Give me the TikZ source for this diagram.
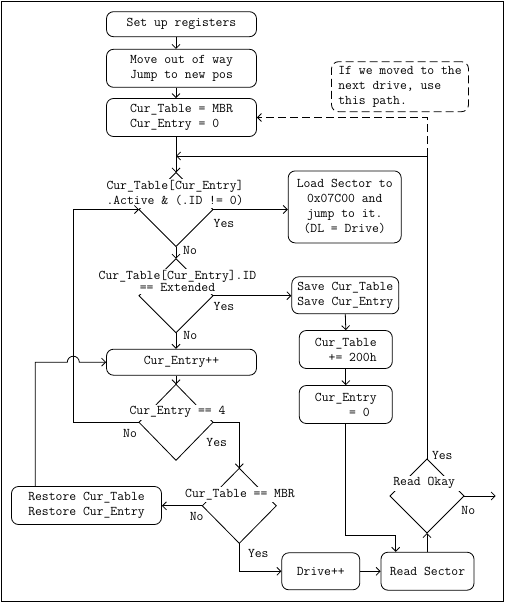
\documentclass[tikz,border=0pt]{standalone}
\usepackage{tikz}
\usetikzlibrary{calc}
\usetikzlibrary{shapes.geometric}
\usetikzlibrary{arrows.meta}

\begin{document}
\begin{tikzpicture}[x=1pt,y=-1pt,line width=0.8pt,
		>={Straight Barb[length=4pt,width=8pt]},
		txt/.style={font=\ttfamily\fontsize{13.3}{15}\selectfont},
		box/.style={txt,draw,rounded corners=7pt,align=center,inner sep=0pt},
		dia/.style={draw,diamond,minimum width=74pt,minimum height=74pt,inner sep=0pt,outer sep=0pt},
		dtext/.style={txt,fill=white,align=center,inner sep=2pt},
		lbl/.style={txt,inner sep=0pt}]
				\useasboundingbox (0,0) rectangle (505,605);
				% outer frame
				\draw (1.5,1.5) rectangle (503.5,601.5);
				
				% main column of boxes
				\node[box,minimum width=150pt,minimum height=25pt] (setup) at (181.5,24.2) {Set up registers};
				\node[box,minimum width=150pt,minimum height=38pt] (move) at (181.5,68.3) {Move out of way\\Jump to new pos};
				\node[box,align=left,minimum width=150pt,minimum height=38pt] (init) at (181.5,117.5) {Cur\_Table = MBR\\Cur\_Entry = 0};
				\node[box,minimum width=150pt,minimum height=26pt] (incr) at (181.5,362.2) {Cur\_Entry++};
				\node[box,minimum width=150pt,minimum height=38pt] (restore) at (86.5,505.5) {Restore Cur\_Table\\Restore Cur\_Entry};
				
				% right column of boxes
				\node[box,minimum width=113pt,minimum height=72pt] (load) at (344.7,206.9) {Load Sector to\\0x07C00 and\\jump to it.\\(DL = Drive)};
				\node[box,minimum width=107pt,minimum height=37pt] (save) at (345.3,295.3) {Save Cur\_Table\\Save Cur\_Entry};
				\node[box,align=left,minimum width=93pt,minimum height=38pt] (addtab) at (345.8,349.5) {Cur\_Table\\\phantom{00}+= 200h};
				\node[box,align=left,minimum width=93pt,minimum height=38pt] (zero) at (345.8,404.5) {Cur\_Entry\\\phantom{00000}= 0};
				\node[box,minimum width=78pt,minimum height=37pt] (drive) at (320.8,571.3) {Drive++};
				\node[box,minimum width=93pt,minimum height=38pt] (read) at (427.5,571.2) {Read Sector};
				
				% dashed note
				\node[box,dash pattern=on 8pt off 4pt,align=left,minimum width=137pt,minimum height=50pt] (note) at (400,86.7) {If we moved to the\\next drive, use\\this path.};
				
				% decisions: diamond first, then its text on white
				\node[dia] (active) at (176,209.5) {};
				\node[dia] (extended) at (176,295.7) {};
				\node[dia,minimum height=76pt] (last) at (176,422.3) {};
				\node[dia,minimum height=75pt] (ismbr) at (239.3,505.8) {};
				\node[dia] (okay) at (427,496) {};
				\node[dtext] (activet) at (175,193.2) {Cur\_Table[Cur\_Entry]\\.Active \& (.ID != 0)};
				\node[dtext,font=\ttfamily\fontsize{13.3}{12}\selectfont] (extendedt) at (177.5,281.3) {Cur\_Table[Cur\_Entry].ID\\== Extended};
				\node[dtext] (lastt) at (177.5,412.3) {Cur\_Entry == 4};
				\node[dtext] (ismbrt) at (240,494.3) {Cur\_Table == MBR};
				\node[dtext,inner xsep=5pt] (okayt) at (424.2,483.3) {Read Okay};
				
				% yes / no labels
				\node[lbl] (yes1) at (224,223.3) {Yes};
				\node[lbl] (no1) at (190,250) {No};
				\node[lbl] (yes2) at (224,306.7) {Yes};
				\node[lbl] (no2) at (190.3,335) {No};
				\node[lbl] (no3) at (130,433.3) {No};
				\node[lbl] (yes3) at (216.7,442.3) {Yes};
				\node[lbl] (no4) at (196.7,516) {No};
				\node[lbl] (yes4) at (258.3,553.3) {Yes};
				\node[lbl] (yes5) at (442.3,455) {Yes};
				\node[lbl] (no5) at (468.3,510) {No};
				
				% helper points
				\coordinate (axis) at (176,0);
				\coordinate (retry) at (73.3,209.5);
				\coordinate (rx) at (35.3,0);
				\coordinate (zj) at (395.7,535);
				\coordinate (back) at (427,156);
				\coordinate (exit) at (495.7,496);
				
				% connectors down the main column
				\draw[->] (setup.south -| axis) -- (move.north -| axis);
				\draw[->] (move.south -| axis) -- (init.north -| axis);
				\draw[->] (init.south -| axis) -- (active.north);
				\draw[->] (active.east) -- (active.east -| load.west);
				\draw[->] (active.south) -- (extended.north);
				\draw[->] (extended.east) -- (extended.east -| save.west);
				\draw[->] (extended.south) -- (incr.north -| axis);
				\draw[->] (incr.south -| axis) -- (last.north);
				
				% No: go back to the first test
				\draw[->] (last.west) -| (retry) -- (active.west);
				% Yes: test for the MBR
				\draw[->] (last.east) -| (ismbr.north);
				\draw[->] (ismbr.west) -- (ismbr.west -| restore.east);
				% restore, with a hop over the line
				\draw[->] (restore.north -| rx) -- (rx |- incr.west) -- ($(retry |- incr.west)+(-6,0)$) arc[start angle=180,end angle=0,radius=6pt] -- (incr.west);
				
				% right column
				\draw[->] (save.south) -- (addtab.north);
				\draw[->] (addtab.south) -- (zero.north);
				\draw[->] (zero.south) |- (zj) -- (zj |- read.north);
				\draw[->] (ismbr.south) |- (drive.west);
				\draw[->] (drive.east) -- (drive.east -| read.west);
				\draw[->] (read.north -| okay.south) -- (okay.south);
				\draw[->] (okay.east) -- (exit);
				\draw[->] (okay.north) -- (back) -- (back -| axis);
				\draw[->,dash pattern=on 8pt off 4pt] (back) |- (init.east);
				
\end{tikzpicture}
\end{document}
